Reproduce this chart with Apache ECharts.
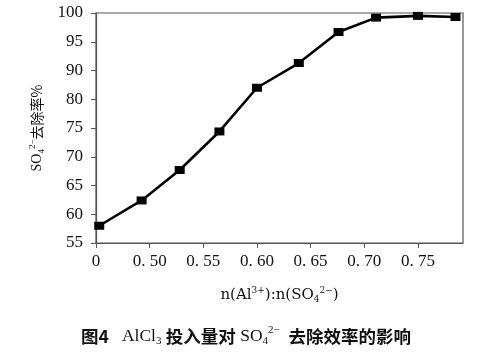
<!DOCTYPE html>
<html>
<head>
<meta charset="utf-8">
<script src="https://cdn.jsdelivr.net/npm/echarts@6/dist/echarts.min.js"></script>
<style>
html,body{margin:0;padding:0;background:#fff;}
#c{width:479px;height:356px;}
</style>
</head>
<body>
<div id="c"></div>
<script>
// Data
var xValues = [0.453, 0.4925, 0.528, 0.565, 0.600, 0.639, 0.676, 0.711, 0.750, 0.785];
// y values expressed in the axis' own (evenly spaced) positions
var yValues = [58.0, 62.4, 67.7, 74.4, 82.0, 86.3, 91.7, 94.2, 94.5, 94.3];
// tick positions and the labels printed at them
var xTickValues = [0.45, 0.50, 0.55, 0.60, 0.65, 0.70, 0.75];
var xTickLabels = ['0', '0. 50', '0. 55', '0. 60', '0. 65', '0. 70', '0. 75'];
var yTickValues = [55, 60, 65, 70, 75, 80, 85, 90, 95];
var yTickLabels = ['55', '60', '65', '70', '75', '80', '90', '95', '100'];

var seriesData = xValues.map(function (x, i) { return [x, yValues[i]]; });

function lookup(vals, labels, v) {
  for (var i = 0; i < vals.length; i++) {
    if (Math.abs(vals[i] - v) < 1e-6) return labels[i];
  }
  return '';
}

var serif = '"Liberation Serif", "DejaVu Serif", serif';
var wideSerif = '"DejaVu Serif", "Liberation Serif", serif';
var cjk = '"Noto Sans CJK SC", sans-serif';
var chart = echarts.init(document.getElementById('c'), null, {renderer: 'canvas'});
chart.setOption({
  animation: false,
  backgroundColor: '#fff',
  grid: {
    left: 96, right: 16, top: 13, bottom: 113,
    show: true, borderColor: '#555', borderWidth: 1.2, backgroundColor: 'transparent'
  },
  xAxis: {
    type: 'value',
    min: 0.45, max: 0.792,
    axisLine: {show: true, lineStyle: {color: '#555', width: 1.2}},
    axisTick: {show: true, length: 5, inside: false, customValues: xTickValues, lineStyle: {color: '#555'}},
    axisLabel: {
      customValues: xTickValues,
      margin: 10, color: '#111', fontFamily: serif, fontSize: 17,
      formatter: function (v) { return lookup(xTickValues, xTickLabels, v); }
    },
    splitLine: {show: false},
    name: '{t|n(Al}{sup|3+}{t|):n(SO}{sub|4}{sup|2−}{t|)}',
    nameLocation: 'middle',
    nameGap: 43,
    nameTextStyle: {
      color: '#111', fontFamily: wideSerif, fontSize: 15,
      rich: {
        t: {fontFamily: wideSerif, fontSize: 15, color: '#111'},
        sup: {fontFamily: wideSerif, fontSize: 9, color: '#111', verticalAlign: 'top', lineHeight: 18},
        sub: {fontFamily: wideSerif, fontSize: 9, color: '#111', verticalAlign: 'bottom', lineHeight: 18}
      }
    }
  },
  yAxis: {
    type: 'value',
    min: 55, max: 95,
    axisLine: {show: true, lineStyle: {color: '#555', width: 1.2}},
    axisTick: {show: true, length: 5, inside: false, customValues: yTickValues, lineStyle: {color: '#555'}},
    axisLabel: {
      customValues: yTickValues,
      margin: 13, color: '#111', fontFamily: serif, fontSize: 17,
      formatter: function (v) { return lookup(yTickValues, yTickLabels, v); }
    },
    splitLine: {show: false},
    name: '{t|SO}{sub|4}{sup|2−}{c|去除率%}',
    nameLocation: 'middle',
    nameRotate: 90,
    nameGap: 50,
    nameTextStyle: {
      color: '#111', fontSize: 14,
      rich: {
        t: {fontFamily: serif, fontSize: 14, color: '#111'},
        sub: {fontFamily: serif, fontSize: 9, color: '#111', verticalAlign: 'bottom', lineHeight: 18},
        sup: {fontFamily: serif, fontSize: 9, color: '#111', verticalAlign: 'top', lineHeight: 18},
        c: {fontFamily: cjk, fontSize: 14, color: '#111'}
      }
    }
  },
  series: [{
    type: 'line',
    data: seriesData,
    symbol: 'rect',
    symbolSize: [10, 8],
    lineStyle: {color: '#000', width: 2.6},
    itemStyle: {color: '#000'},
    z: 3
  }],
  graphic: [{
    type: 'text',
    left: 81,
    top: 325,
    style: {
      text: '{h|图4}{g|   }{r|AlCl}{sub|3}{g| }{h|投入量对}{g| }{r|SO}{sub|4}{sup|2−}{g|  }{h|去除效率的影响}',
      rich: {
        h: {fontFamily: cjk, fontWeight: 'bold', fontSize: 17.5, fill: '#111', lineHeight: 22},
        r: {fontFamily: serif, fontSize: 17.5, fill: '#111', lineHeight: 22},
        g: {fontFamily: serif, fontSize: 17.5, fill: '#111', lineHeight: 22},
        sub: {fontFamily: serif, fontSize: 11, fill: '#111', verticalAlign: 'bottom', lineHeight: 22},
        sup: {fontFamily: serif, fontSize: 11, fill: '#111', verticalAlign: 'top', lineHeight: 22}
      }
    }
  }]
});
</script>
</body>
</html>
